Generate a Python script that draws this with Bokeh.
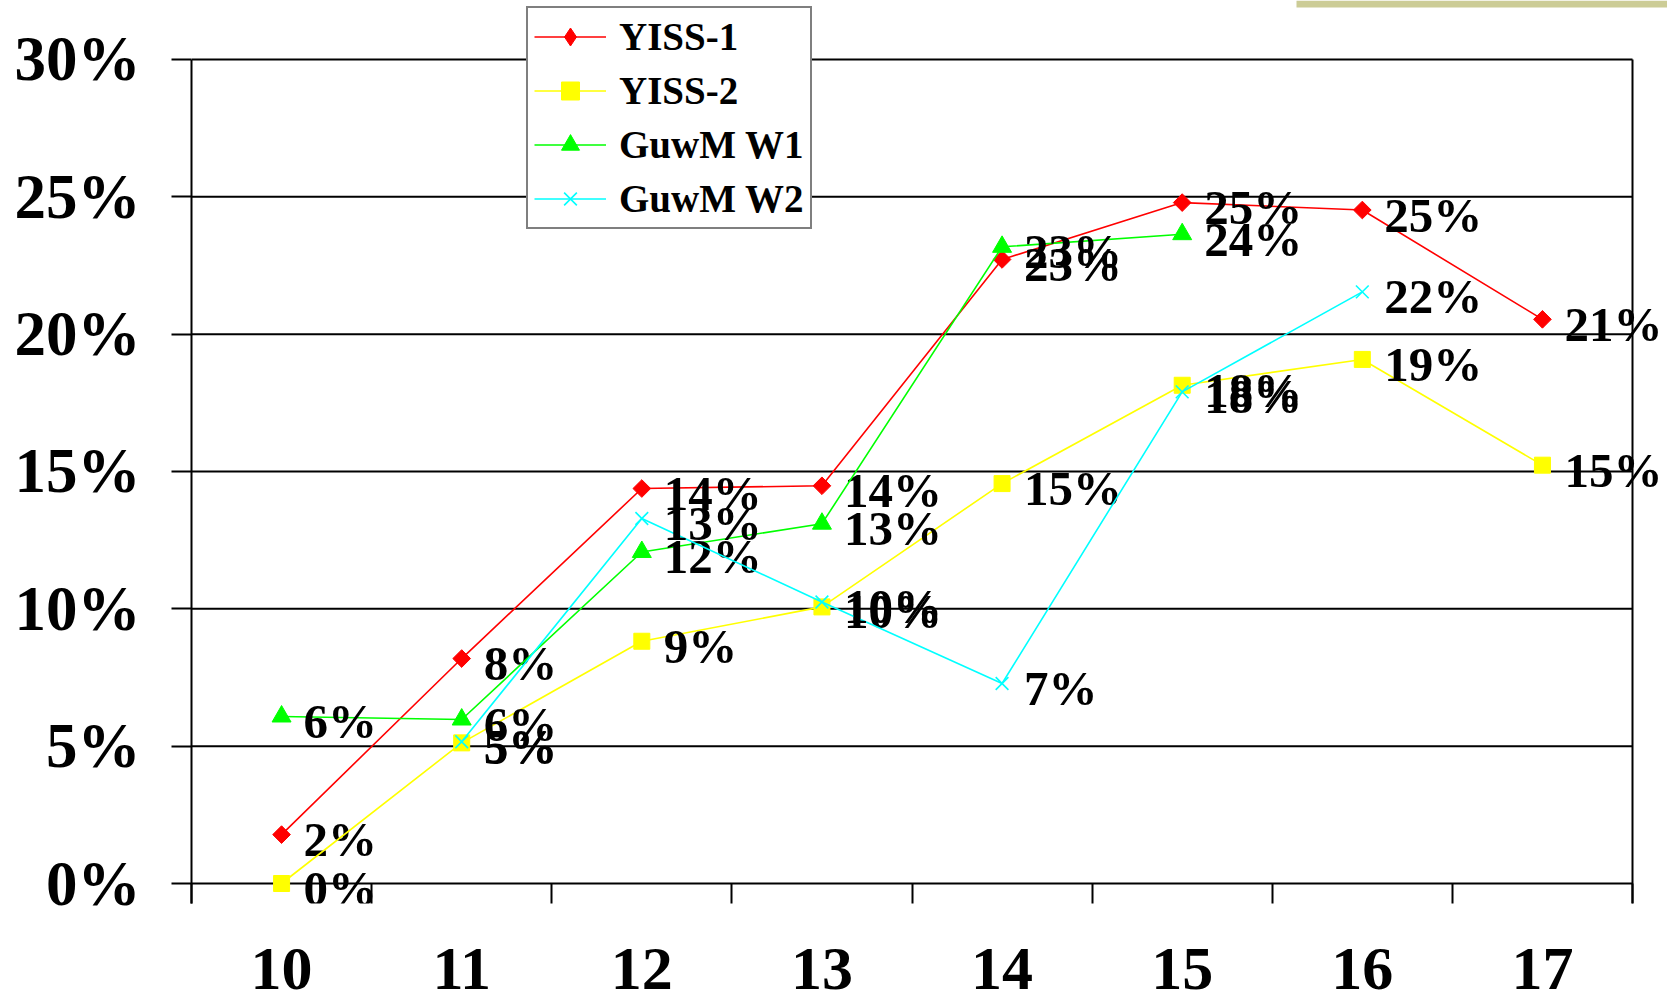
import numpy as np
from bokeh.plotting import figure
from bokeh.models import Range1d, FixedTicker, Legend, LegendItem, BoxAnnotation, ColumnDataSource
from bokeh.core.properties import value
from bokeh.embed import file_html
from bokeh.resources import INLINE

nan = float("nan")
categories = ["10", "11", "12", "13", "14", "15", "16", "17"]
yiss1 = [1.78, 8.19, 14.38, 14.48, 22.72, 24.79, 24.52, 20.54]
yiss2 = [0.0, 5.12, 8.82, 10.07, 14.56, 18.14, 19.08, 15.23]
guwm_w1 = [6.08, 5.97, 12.07, 13.10, 23.18, 23.64, nan, nan]
guwm_w2 = [nan, 5.16, 13.29, 10.25, 7.28, 17.90, 21.54, nan]
y_ticks = [0, 5, 10, 15, 20, 25, 30]
y_tick_labels = ["0%", "5%", "10%", "15%", "20%", "25%", "30%"]

FONT = "Liberation Serif"
n = len(categories)
px_per_unit_y = 27.467
px_per_unit_x = 180.125
y_top = y_ticks[-1]
y_start = -20 / px_per_unit_y
y_end = y_top + 59 / px_per_unit_y
x_end = n + 35 / px_per_unit_x

W, H = 1667, 1004
p = figure(width=W, height=H, output_backend="svg", toolbar_location=None,
           x_range=Range1d(0, x_end), y_range=Range1d(y_start, y_end),
           min_border_left=191, min_border_right=0, min_border_top=0, min_border_bottom=H - 903)
p.outline_line_color = None
p.xgrid.visible = False
p.ygrid.visible = False
p.background_fill_color = "white"
p.border_fill_color = "white"

# y axis
ya = p.yaxis[0]
ya.ticker = FixedTicker(ticks=y_ticks, minor_ticks=[])
ya.major_label_overrides = {t: l for t, l in zip(y_ticks, y_tick_labels)}
ya.bounds = (y_start, y_top)
ya.axis_line_color = "black"
ya.axis_line_width = 2
ya.major_tick_out = 20
ya.major_tick_in = 0
ya.major_tick_line_width = 2
ya.major_tick_line_color = "black"
ya.major_label_standoff = 31
ya.major_label_text_font = FONT
ya.major_label_text_font_style = "bold"
ya.major_label_text_font_size = "63px"
ya.major_label_text_color = "black"

# x axis
xa = p.xaxis[0]
centers = [i + 0.5 for i in range(n)]
xa.ticker = FixedTicker(ticks=centers, minor_ticks=list(range(n + 1)))
xa.major_label_overrides = {c: cat for c, cat in zip(centers, categories)}
xa.axis_line_color = None
xa.major_tick_in = 0
xa.major_tick_out = 0
xa.minor_tick_in = 20
xa.minor_tick_out = 0
xa.minor_tick_line_width = 2
xa.minor_tick_line_color = "black"
xa.major_label_standoff = 45
xa.major_label_text_font = FONT
xa.major_label_text_font_style = "bold"
xa.major_label_text_font_size = "62px"
xa.major_label_text_color = "black"

# horizontal gridlines (restricted to plot area)
p.segment(x0=[0] * len(y_ticks), y0=y_ticks, x1=[n] * len(y_ticks), y1=y_ticks,
          line_color="black", line_width=2)
# right border
p.segment(x0=[n], y0=[y_start], x1=[n], y1=[y_top], line_color="black", line_width=2)

# top-right decorative bar
p.add_layout(BoxAnnotation(left=(1296 - 191) / px_per_unit_x, right=x_end,
                           top=y_end, bottom=y_end - 7 / px_per_unit_y,
                           fill_color="#cccc96", fill_alpha=1, line_color=None))

series = [
    ("YISS-1", yiss1, "#ff0000", dict(marker="square", size=12.5, angle=np.pi / 4)),
    ("YISS-2", yiss2, "#ffff00", dict(marker="square", size=16)),
    ("GuwM W1", guwm_w1, "#00ff00", dict(marker="triangle", size=19)),
    ("GuwM W2", guwm_w2, "#00ffff", dict(marker="x", size=18, line_width=1.6)),
]

items = []
for name, vals, color, mk in series:
    xs = [i + 0.5 for i in range(n)]
    r1 = p.line(xs, vals, line_color=color, line_width=1.6)
    mk = dict(mk)
    lw = mk.pop("line_width", 1)
    r2 = p.scatter(xs, vals, fill_color=color, line_color=color, line_width=lw, **mk)
    if "angle" in mk:
        # legend-only diamond (rotated squares are not rotated in legends)
        r2 = p.scatter(x=[nan], y=[nan], marker="diamond", size=22, fill_color=color, line_color=color)
    items.append(LegendItem(label=name, renderers=[r1, r2]))
    lx = [x for x, v in zip(xs, vals) if not np.isnan(v)]
    lv = [v for v in vals if not np.isnan(v)]
    lt = [f"{int(v + 0.5)}%" for v in lv]
    src = ColumnDataSource(dict(x=lx, y=lv, t=lt))
    p.text(x="x", y="y", text="t", source=src, x_offset=22, y_offset=5,
           text_font=value(FONT), text_font_style="bold", text_font_size="49px",
           text_color="black", text_align="left", text_baseline="middle")

legend = Legend(items=items, location=(335, 674))
legend.label_text_font = FONT
legend.label_text_font_style = "bold"
legend.label_text_font_size = "39px"
legend.label_text_color = "black"
legend.border_line_color = "black"
legend.border_line_width = 2
legend.background_fill_color = "white"
legend.background_fill_alpha = 1
legend.glyph_width = 72
legend.glyph_height = 45
legend.label_height = 45
legend.spacing = 9
legend.padding = 6
legend.margin = 0
legend.label_standoff = 13
p.add_layout(legend, "center")

open("out.html", "w").write(file_html(p, INLINE))
